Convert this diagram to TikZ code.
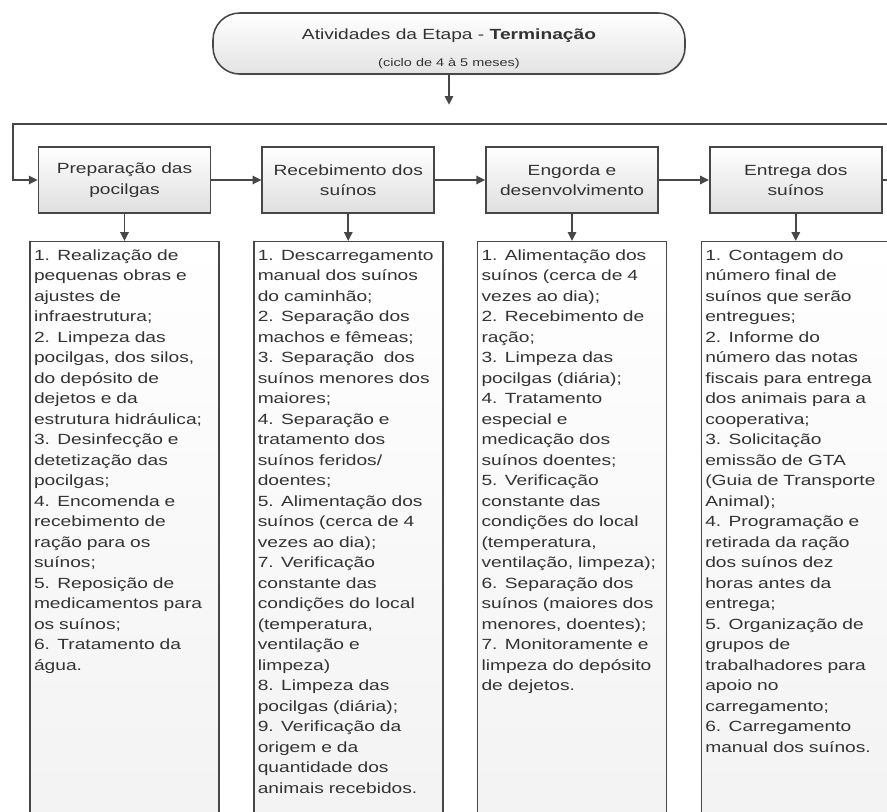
\documentclass[tikz,border=0pt]{standalone}
\usepackage{fontspec}
\setmainfont[FakeStretch=1.3]{Liberation Sans}
\usepackage{xcolor}
\usepackage{tikz}
\usetikzlibrary{arrows.meta,positioning,shadows}
\definecolor{txtgray}{HTML}{333333}
\definecolor{linegray}{HTML}{474747}

\begin{document}
\begin{tikzpicture}[
  font=\fontsize{12.6}{17.5}\selectfont,
  text=txtgray,
  node distance=0.81cm and 1.5cm,
  startbox/.style={rectangle, draw=linegray, line width=1.3pt, rounded corners=0.8cm, minimum width=14.16cm, minimum height=1.83cm, align=center, text height=1.45cm, text depth=0.1cm, top color=white, bottom color=gray!22, drop shadow={shadow xshift=0.7pt, shadow yshift=-0.9pt, opacity=0.35}},
  headbox/.style={rectangle, draw=linegray, line width=1.5pt, minimum width=5.16cm, minimum height=1.98cm, align=center, top color=white, bottom color=gray!25, drop shadow={shadow xshift=0.7pt, shadow yshift=-0.9pt, opacity=0.35}},
  listbox/.style={rectangle, draw=linegray, line width=1.3pt, text width=5.43cm, align=left, inner xsep=0.12cm, inner ysep=0.14cm, text height=0.42cm, text depth=17cm, top color=white, bottom color=gray!10},
  arr/.style={-{Triangle[length=2.6mm, width=2.5mm]}, line width=1.4pt, draw=linegray}
]
\useasboundingbox (0,0) rectangle (26.61,-24.36);
\clip (0,0) rectangle (26.61,-24.36);

\node[startbox] (etapa) at (13.47,-1.305) {Atividades da Etapa - \textbf{Terminação}\\[5.5pt]{\fontsize{9.5}{12}\selectfont (ciclo de 4 à 5 meses)}};

\node[headbox] (prep) at (3.735,-5.4) {Preparação das\\pocilgas};
\node[headbox, right=of prep] (rec) {Recebimento dos\\suínos};
\node[headbox, right=of rec] (eng) {Engorda e\\desenvolvimento};
\node[headbox, right=of eng] (ent) {Entrega dos\\suínos};

\node[listbox, below=of prep] (prepl) {1. Realização de\\pequenas obras e\\ajustes de\\infraestrutura;\\2. Limpeza das\\pocilgas, dos silos,\\do depósito de\\dejetos e da\\estrutura hidráulica;\\3. Desinfecção e\\detetização das\\pocilgas;\\4. Encomenda e\\recebimento de\\ração para os\\suínos;\\5. Reposição de\\medicamentos para\\os suínos;\\6. Tratamento da\\água.};
\node[listbox, below=of rec] (recl) {1. Descarregamento\\manual dos suínos\\do caminhão;\\2. Separação dos\\machos e fêmeas;\\3. Separação~~dos\\suínos menores dos\\maiores;\\4. Separação e\\tratamento dos\\suínos feridos/\\doentes;\\5. Alimentação dos\\suínos (cerca de 4\\vezes ao dia);\\7. Verificação\\constante das\\condições do local\\(temperatura,\\ventilação e\\limpeza)\\8. Limpeza das\\pocilgas (diária);\\9. Verificação da\\origem e da\\quantidade dos\\animais recebidos.};
\node[listbox, below=of eng] (engl) {1. Alimentação dos\\suínos (cerca de 4\\vezes ao dia);\\2. Recebimento de\\ração;\\3. Limpeza das\\pocilgas (diária);\\4. Tratamento\\especial e\\medicação dos\\suínos doentes;\\5. Verificação\\constante das\\condições do local\\(temperatura,\\ventilação, limpeza);\\6. Separação dos\\suínos (maiores dos\\menores, doentes);\\7. Monitoramente e\\limpeza do depósito\\de dejetos.};
\node[listbox, below=of ent] (entl) {1. Contagem do\\número final de\\suínos que serão\\entregues;\\2. Informe do\\número das notas\\fiscais para entrega\\dos animais para a\\cooperativa;\\3. Solicitação\\emissão de GTA\\(Guia de Transporte\\Animal);\\4. Programação e\\retirada da ração\\dos suínos dez\\horas antes da\\entrega;\\5. Organização de\\grupos de\\trabalhadores para\\apoio no\\carregamento;\\6. Carregamento\\manual dos suínos.};

\coordinate[below=0.9cm of etapa] (desce);
\coordinate (voltaE) at (0.39,-3.72);
\coordinate (voltaD) at (27.2,-3.72);

\draw[arr] (etapa) -- (desce);
\draw[arr] (prep) -- (rec);
\draw[arr] (rec) -- (eng);
\draw[arr] (eng) -- (ent);
\draw[arr] (ent.east) -| (voltaD) -- (voltaE) |- (prep.west);

\draw[arr] (prep) -- (prepl);
\draw[arr] (rec) -- (recl);
\draw[arr] (eng) -- (engl);
\draw[arr] (ent) -- (entl);
\end{tikzpicture}
\end{document}
